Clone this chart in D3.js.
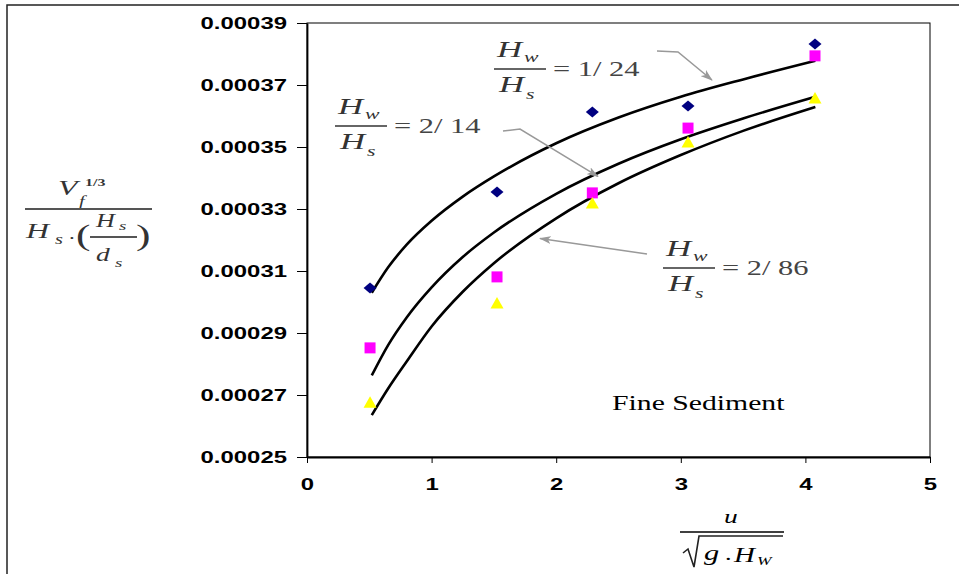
<!DOCTYPE html>
<html>
<head>
<meta charset="utf-8">
<script src="https://cdn.jsdelivr.net/npm/d3@7"></script>
<style>
  body { margin: 0; background: #fff; }
</style>
</head>
<body>
<script>
// values
var pointX = [0.506, 1.525, 2.29, 3.058, 4.077];
var diamondY = [0.0003045, 0.0003355, 0.0003613, 0.0003632, 0.0003832];
var squareY = [0.0002852, 0.0003081, 0.0003352, 0.0003561, 0.0003794];
var triangleY = [0.0002677, 0.0002997, 0.0003319, 0.0003516, 0.0003658];

// fitted curves (read at a few x positions)
var curveX = [0.52, 0.65, 0.8, 1, 1.25, 1.5, 2, 2.5, 3, 3.5, 4.08];
var curve124 = [0.0003030, 0.0003111, 0.0003185, 0.0003262, 0.0003340, 0.0003405, 0.0003512, 0.0003595, 0.0003662, 0.0003718, 0.0003778];
var curve214 = [0.0002763, 0.0002860, 0.0002950, 0.0003047, 0.0003145, 0.0003224, 0.0003349, 0.0003446, 0.0003525, 0.0003592, 0.0003662];
var curve286 = [0.0002635, 0.0002720, 0.0002808, 0.0002921, 0.0003033, 0.0003125, 0.0003270, 0.0003383, 0.0003474, 0.0003552, 0.0003629];

var xTicks = [0, 1, 2, 3, 4, 5];
var yTicks = [0.00025, 0.00027, 0.00029, 0.00031, 0.00033, 0.00035, 0.00037, 0.00039];

var width = 959, height = 574;
var SX = 1.45; // the original picture is stretched sideways

var plot = { left: 307, right: 930, top: 23, bottom: 457 };

var x = d3.scaleLinear().domain([0, 5]).range([plot.left, plot.right]);
var y = d3.scaleLinear().domain([0.00025, 0.00039]).range([plot.bottom, plot.top]);

var svg = d3.select('body').append('svg')
    .attr('width', width)
    .attr('height', height);

// outer frame (cropped, only top and left show)
svg.append('path')
    .attr('d', 'M7,' + (height + 2) + 'V5H' + (width + 2))
    .attr('fill', 'none')
    .attr('stroke', '#222')
    .attr('stroke-width', 1.5);

// plot border
svg.append('rect')
    .attr('x', plot.left)
    .attr('y', plot.top)
    .attr('width', plot.right - plot.left)
    .attr('height', plot.bottom - plot.top)
    .attr('fill', 'none')
    .attr('stroke', '#000')
    .attr('stroke-width', 1);

// axes
var yAxis = svg.append('g')
    .attr('transform', 'translate(' + plot.left + ',0)')
    .call(d3.axisLeft(y).tickValues(yTicks).tickSize(10).tickSizeOuter(0).tickFormat(d3.format('.5f')));

var xAxis = svg.append('g')
    .attr('transform', 'translate(0,' + plot.bottom + ')')
    .call(d3.axisBottom(x).tickValues(xTicks).tickSize(6).tickSizeOuter(0).tickFormat(d3.format('d')));

[yAxis, xAxis].forEach(function(ax) {
    ax.select('.domain').attr('stroke', '#000').attr('stroke-width', 1.8);
    ax.selectAll('.tick line').attr('stroke', '#000').attr('stroke-width', 1);
    ax.selectAll('text')
        .attr('fill', '#000')
        .style('font-family', '"Liberation Sans", Arial, sans-serif')
        .style('font-size', '16.5px')
        .style('font-weight', 'bold');
});
yAxis.selectAll('text').attr('x', -20 / SX).attr('transform', 'scale(' + SX + ',1)');
xAxis.selectAll('text').attr('y', 21).attr('transform', 'scale(' + SX + ',1)');

// fitted curves
var line = d3.line()
    .x(function(d) { return x(d[0]); })
    .y(function(d) { return y(d[1]); })
    .curve(d3.curveMonotoneX);

[curve124, curve214, curve286].forEach(function(c) {
    svg.append('path')
        .datum(curveX.map(function(v, i) { return [v, c[i]]; }))
        .attr('d', line)
        .attr('fill', 'none')
        .attr('stroke', '#000')
        .attr('stroke-width', 2.6);
});

// markers
var shapes = [
    { vals: diamondY, color: '#000080', d: 'M0,-5.5L6.5,0L0,5.5L-6.5,0Z' },
    { vals: squareY, color: '#ff00ff', d: 'M-5.5,-5.5H5.5V5.5H-5.5Z' },
    { vals: triangleY, color: '#ffff00', d: 'M0,-6L6.5,5.5H-6.5Z' }
];
shapes.forEach(function(s) {
    svg.append('g').selectAll('path')
        .data(pointX.map(function(v, i) { return [v, s.vals[i]]; }))
        .enter().append('path')
        .attr('d', s.d)
        .attr('transform', function(d) { return 'translate(' + x(d[0]) + ',' + y(d[1]) + ')'; })
        .attr('fill', s.color);
});

// helper for stretched text
function stext(px, py, str, size, opts) {
    opts = opts || {};
    var g = svg.append('g').attr('transform', 'translate(' + px + ',' + py + ') scale(' + SX + ',1)');
    return g.append('text')
        .attr('x', 0).attr('y', 0)
        .attr('text-anchor', opts.anchor || 'start')
        .style('font-family', opts.family || '"Liberation Serif", "Times New Roman", serif')
        .style('font-style', opts.italic ? 'italic' : 'normal')
        .style('font-weight', opts.bold ? 'bold' : 'normal')
        .style('font-size', size + 'px')
        .attr('fill', opts.fill || '#000')
        .text(str);
}

function hline(x1, x2, yy, color, w) {
    svg.append('line')
        .attr('x1', x1).attr('x2', x2).attr('y1', yy).attr('y2', yy)
        .attr('stroke', color).attr('stroke-width', w);
}

// ratio labels Hw/Hs = ...
var ratioLabels = [
    { text: '= 1/ 24', bx: 494, by: 69 },
    { text: '= 2/ 14', bx: 335, by: 126 },
    { text: '= 2/ 86', bx: 663, by: 268 }
];
ratioLabels.forEach(function(r) {
    var c = '#333';
    stext(r.bx + 3, r.by - 12, 'H', 24, { italic: true, fill: c });
    stext(r.bx + 30, r.by - 7, 'w', 15, { italic: true, fill: c });
    hline(r.bx, r.bx + 52, r.by, '#666', 2);
    stext(r.bx + 5, r.by + 23, 'H', 24, { italic: true, fill: c });
    stext(r.bx + 32, r.by + 30, 's', 15, { italic: true, fill: c });
    stext(r.bx + 59, r.by + 7, r.text, 21, { fill: '#444' });
});

// arrows from labels to curves
var defs = svg.append('defs');
defs.append('marker')
    .attr('id', 'arrow')
    .attr('viewBox', '0 0 12 8')
    .attr('refX', 11).attr('refY', 4)
    .attr('markerWidth', 12).attr('markerHeight', 8)
    .attr('markerUnits', 'userSpaceOnUse')
    .attr('orient', 'auto')
    .append('path')
    .attr('d', 'M0,0L12,4L0,8L3,4Z')
    .attr('fill', '#999');

var arrows = [
    [[657, 51], [678, 52], [x(3.25), y(0.0003716)]],
    [[503, 131], [520, 129], [x(2.335), y(0.0003405)]],
    [[647, 254], [x(1.87), y(0.0003205)]]
];
arrows.forEach(function(a) {
    svg.append('path')
        .attr('d', d3.line()(a))
        .attr('fill', 'none')
        .attr('stroke', '#999')
        .attr('stroke-width', 1.5)
        .attr('marker-end', 'url(#arrow)');
});

// Fine Sediment
stext(612, 410, 'Fine Sediment', 20.5);

// y axis title: V_f^(1/3) / (H_s.(H_s/d_s))
var yc = '#333';
stext(58, 195, 'V', 22, { italic: true, fill: yc });
stext(85, 186, '1/3', 11, { fill: yc, bold: true });
stext(79, 206, 'f', 14, { italic: true, fill: yc });
hline(25, 152, 209, '#555', 2);
stext(26, 238, 'H', 22, { italic: true, fill: yc });
stext(55, 244, 's', 14, { italic: true, fill: yc });
stext(69, 239, '.', 16, { fill: yc });
stext(76, 245, '(', 30, { fill: yc });
stext(96, 227, 'H', 18, { italic: true, fill: yc });
stext(119, 230, 's', 13, { italic: true, fill: yc });
hline(90, 137, 237, '#555', 2);
stext(96, 261, 'd', 19, { italic: true, fill: yc });
stext(115, 267, 's', 13, { italic: true, fill: yc });
stext(136, 245, ')', 30, { fill: yc });

// x axis title: u / sqrt(g.H_W)
stext(731, 523, 'u', 19, { italic: true, anchor: 'middle' });
hline(680, 784, 532, '#000', 1.5);
svg.append('path')
    .attr('d', 'M683,553L688,549L694,567L699,536H783')
    .attr('fill', 'none')
    .attr('stroke', '#222')
    .attr('stroke-width', 1.6);
stext(704, 560, 'g', 21, { italic: true });
stext(725, 560, '.', 18);
stext(734, 562, 'H', 20, { italic: true });
stext(757, 565, 'W', 12, { italic: true });
</script>
</body>
</html>
